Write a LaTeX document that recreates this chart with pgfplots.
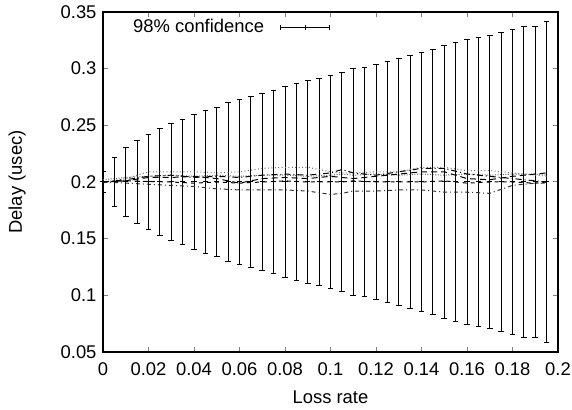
\documentclass[border=0pt]{standalone}
\usepackage{fontspec}
\setmainfont{Liberation Sans}
\usepackage{pgfplots}
\pgfplotsset{compat=1.18}
\usepackage{pgfplotstable}

% error bar half-widths (centre 0.2)
\pgfplotstableread{
x      y    e
0      0.2  0.0093
0.005  0.2  0.0216
0.010  0.2  0.0303
0.015  0.2  0.0369
0.020  0.2  0.0421
0.025  0.2  0.0472
0.030  0.2  0.0519
0.035  0.2  0.0552
0.040  0.2  0.0596
0.045  0.2  0.0630
0.050  0.2  0.0661
0.055  0.2  0.0699
0.060  0.2  0.0728
0.065  0.2  0.0751
0.070  0.2  0.0780
0.075  0.2  0.0806
0.080  0.2  0.0846
0.085  0.2  0.0868
0.090  0.2  0.0896
0.095  0.2  0.0917
0.100  0.2  0.0942
0.105  0.2  0.0970
0.110  0.2  0.1001
0.115  0.2  0.1013
0.120  0.2  0.1039
0.125  0.2  0.1066
0.130  0.2  0.1086
0.135  0.2  0.1118
0.140  0.2  0.1143
0.145  0.2  0.1171
0.150  0.2  0.1207
0.155  0.2  0.1233
0.160  0.2  0.1260
0.165  0.2  0.1277
0.170  0.2  0.1289
0.175  0.2  0.1319
0.180  0.2  0.1345
0.185  0.2  0.1372
0.190  0.2  0.1372
0.195  0.2  0.1416
}\conf

% the runs (x, A, B, C, D, E, F)
\pgfplotstableread{
x      A      B      C      D      E      F
0      0.200  0.202  0.200  0.200  0.200  0.200
0.010  0.203  0.204  0.201  0.199  0.202  0.201
0.020  0.209  0.205  0.204  0.198  0.205  0.2005
0.030  0.209  0.206  0.204  0.197  0.206  0.200
0.040  0.209  0.205  0.205  0.196  0.204  0.199
0.050  0.208  0.206  0.203  0.194  0.205  0.200
0.060  0.209  0.205  0.199  0.193  0.204  0.199
0.070  0.212  0.206  0.203  0.193  0.206  0.200
0.080  0.213  0.206  0.204  0.193  0.207  0.201
0.090  0.213  0.205  0.203  0.192  0.206  0.200
0.100  0.209  0.206  0.205  0.189  0.208  0.200
0.105  0.208  0.207  0.204  0.190  0.211  0.200
0.110  0.208  0.206  0.203  0.192  0.208  0.201
0.120  0.209  0.207  0.205  0.192  0.206  0.200
0.130  0.209  0.206  0.207  0.193  0.209  0.200
0.140  0.213  0.207  0.209  0.193  0.212  0.200
0.150  0.213  0.206  0.209  0.191  0.212  0.201
0.160  0.210  0.207  0.203  0.191  0.207  0.199
0.170  0.210  0.206  0.202  0.190  0.205  0.200
0.180  0.208  0.207  0.205  0.197  0.203  0.200
0.190  0.206  0.207  0.207  0.199  0.201  0.199
0.195  0.205  0.206  0.208  0.199  0.200  0.200
}\runs

\begin{document}
\begin{tikzpicture}
\fontsize{9.2}{11}\selectfont
\begin{axis}[
  name=ax,
  scale only axis,
  width=227.5pt, height=170pt,
  xmin=0, xmax=0.2, ymin=0.05, ymax=0.35,
  xtick={0,0.02,...,0.201}, ytick={0.05,0.1,...,0.351},
  scaled ticks=false,
  /pgf/number format/.cd, fixed, precision=2, assume math mode=true, /pgfplots/.cd,
  tick align=inside, major tick length=2.5pt,
  tick style={line width=0.5pt},
  axis line style={line width=0.6pt},
  ticklabel style={font=\fontsize{9.2}{11}\selectfont},
  xticklabel style={yshift=-2pt},
  label style={font=\fontsize{9.2}{11}\selectfont},
  xlabel={Loss rate}, ylabel={Delay (usec)},
  xlabel style={at={(axis description cs:0.5,-0.132)}, anchor=center},
  ylabel style={at={(axis description cs:-0.189,0.5)}, anchor=center},
  legend plot pos=right,
  legend style={at={(axis description cs:0.500,0.955)}, anchor=east,
                draw=none, fill=none, inner sep=0pt, column sep=6pt,
                font=\fontsize{9.2}{11}\selectfont},
]
  \addplot[black, line width=0.5pt, only marks, mark=+, mark size=1.3pt,
    error bars/.cd, y dir=both, y explicit,
    error bar style={line width=0.5pt, black},
    error mark options={black, line width=0.5pt, mark size=1.4pt, rotate=90},
    /pgfplots/.cd,
    legend image code/.code={
      \draw[line width=0.5pt] (0pt,0pt) -- (24.5pt,0pt);
      \draw[line width=0.5pt] (0pt,-1.3pt) -- (0pt,1.3pt);
      \draw[line width=0.5pt] (12.25pt,-1.3pt) -- (12.25pt,1.3pt);
      \draw[line width=0.5pt] (24.5pt,-1.3pt) -- (24.5pt,1.3pt);
    }]
    table[x=x, y=y, y error=e] {\conf};
  \addlegendentry{98\% confidence}

  \addplot[forget plot, black!55, line width=0.5pt, dash pattern=on 0.5pt off 1.2pt] table[x=x, y=A] {\runs};
  \addplot[forget plot, black!60, line width=0.5pt, dash pattern=on 0.5pt off 0.8pt] table[x=x, y=B] {\runs};
  \addplot[forget plot, black, line width=0.5pt, dash pattern=on 3pt off 2pt] table[x=x, y=C] {\runs};
  \addplot[forget plot, black!80, line width=0.5pt, dash pattern=on 2pt off 1.5pt on 0.5pt off 1.5pt] table[x=x, y=D] {\runs};
  \addplot[forget plot, black, line width=0.5pt, dash pattern=on 3pt off 1.5pt on 0.5pt off 1.5pt] table[x=x, y=E] {\runs};
  \addplot[forget plot, black, line width=0.5pt, dash pattern=on 2pt off 2pt] table[x=x, y=F] {\runs};
\end{axis}
\pgfresetboundingbox
\path ([shift={(-51.5pt,-29pt)}]ax.south west) rectangle ([shift={(7pt,6pt)}]ax.north east);
\end{tikzpicture}
\end{document}
